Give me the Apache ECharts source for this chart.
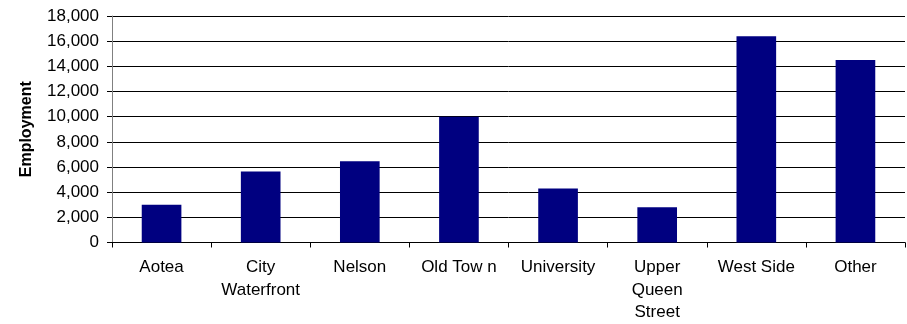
<!DOCTYPE html>
<html>
<head>
<meta charset="utf-8">
<script src="https://cdn.jsdelivr.net/npm/echarts@6/dist/echarts.min.js"></script>
<style>
html,body{margin:0;padding:0;background:#fff;}
#chart{width:907px;height:324px;}
</style>
</head>
<body>
<div id="chart"></div>
<script>
var categories = ["Aotea", "City\nWaterfront", "Nelson", "Old Tow n", "University", "Upper\nQueen\nStreet", "West Side", "Other"];
var employment = [3000, 5650, 6450, 10000, 4300, 2800, 16400, 14500];
var yMin = 0, yMax = 18000, yStep = 2000;

var chart = echarts.init(document.getElementById('chart'), null, {renderer: 'canvas'});
chart.setOption({
  animation: false,
  backgroundColor: '#ffffff',
  grid: {left: 112, right: 2, top: 16, bottom: 81, containLabel: false},
  xAxis: {
    type: 'category',
    data: categories,
    boundaryGap: true,
    axisLine: {show: true, lineStyle: {color: '#000', width: 1}},
    axisTick: {show: true, length: 5, alignWithLabel: false, lineStyle: {color: '#000'}},
    axisLabel: {
      interval: 0, margin: 14,
      fontFamily: 'Liberation Sans, Arial, sans-serif', fontSize: 17,
      color: '#000', lineHeight: 22.5
    }
  },
  yAxis: {
    type: 'value',
    min: yMin, max: yMax, interval: yStep,
    name: 'Employment',
    nameLocation: 'middle',
    nameRotate: 90,
    nameGap: 77,
    nameTextStyle: {fontFamily: 'Liberation Sans, Arial, sans-serif', fontSize: 16, fontWeight: 'bold', color: '#000'},
    axisLine: {show: true, lineStyle: {color: '#808080', width: 1}},
    axisTick: {show: true, length: 5, lineStyle: {color: '#000'}},
    axisLabel: {
      margin: 13,
      fontFamily: 'Liberation Sans, Arial, sans-serif', fontSize: 17, color: '#000',
      formatter: function (v) { return v.toLocaleString('en-US'); }
    },
    splitLine: {show: true, lineStyle: {color: '#000', width: 1}}
  },
  series: [{
    type: 'bar',
    data: employment,
    barWidth: '40%',
    itemStyle: {color: '#000080'}
  }]
});
</script>
</body>
</html>
